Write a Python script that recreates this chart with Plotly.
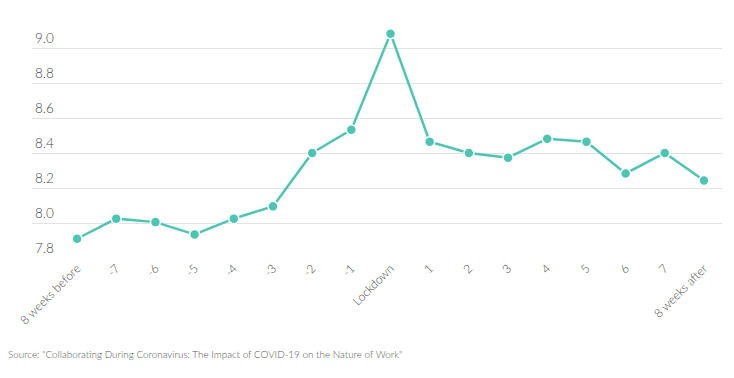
import plotly.graph_objects as go

categories = ["8 weeks before", "-7", "-6", "-5", "-4", "-3", "-2", "-1", "Lockdown",
              "1", "2", "3", "4", "5", "6", "7", "8 weeks after"]
values = [7.91, 8.025, 8.005, 7.935, 8.025, 8.095, 8.40, 8.533, 9.082,
          8.464, 8.40, 8.373, 8.482, 8.464, 8.283, 8.40, 8.243]
y_ticks = [7.8, 8.0, 8.2, 8.4, 8.6, 8.8, 9.0]
y_tick_labels = ["7.8", "8.0", "8.2", "8.4", "8.6", "8.8", "9.0"]
source_text = 'Source: "Collaborating During Coronavirus: The Impact of COVID-19 on the Nature of Work"'

teal = "#4cc5b2"

fig = go.Figure(go.Scatter(
    x=list(range(len(categories))), y=values, mode="lines+markers",
    line=dict(color=teal, width=2.5),
    marker=dict(color=teal, size=10, line=dict(color="white", width=1.5)),
    hoverinfo="skip", cliponaxis=False,
))

fig.update_layout(
    width=734, height=378,
    margin=dict(l=32, r=12, t=13, b=120, autoexpand=False),
    paper_bgcolor="white", plot_bgcolor="white",
    showlegend=False,
    font=dict(family="Lato, 'Open Sans', sans-serif", color="#555555"),
    xaxis=dict(
        tickmode="array", tickvals=list(range(len(categories))), ticktext=categories,
        range=[-1.15, 16.46], tickangle=-45, showgrid=False, zeroline=False,
        showline=False, ticks="", tickfont=dict(size=12, color="#4a4a4a", weight=300),
        automargin=False,
    ),
    yaxis=dict(
        tickmode="array", tickvals=y_ticks, ticktext=y_tick_labels,
        range=[7.8, 9.2], showgrid=True, gridcolor="#e2e2e2", gridwidth=1,
        zeroline=False, showline=False, ticks="",
        ticklabelposition="inside top", automargin=False,
        tickfont=dict(size=13.5, color="#4a4a4a", weight=300),
    ),
    annotations=[dict(
        text=source_text, xref="paper", yref="paper", x=-0.038, y=-0.39,
        xanchor="left", yanchor="middle", showarrow=False,
        font=dict(size=9.9, color="#555555", weight=300),
    )],
)

fig.write_html("out.html", config={"displayModeBar": False},
               post_script="document.body.style.margin='0';")
